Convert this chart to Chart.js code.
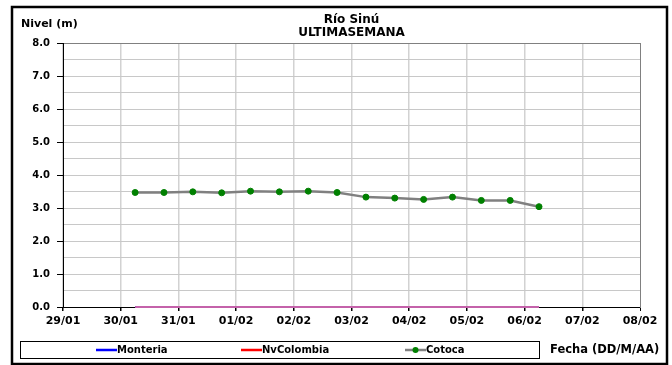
<!DOCTYPE html>
<html><head><meta charset="utf-8">
<script src="https://cdn.jsdelivr.net/npm/chart.js@4"></script>
<style>html,body{margin:0;padding:0;background:#fff}</style>
</head><body>
<canvas id="c" width="672" height="365"></canvas>
<script>
// ---- data ----
const fechasEje = ['29/01','30/01','31/01','01/02','02/02','03/02','04/02','05/02','06/02','07/02','08/02'];
const fechas = ['30/01 06:00','30/01 18:00','31/01 06:00','31/01 18:00','01/02 06:00','01/02 18:00',
  '02/02 06:00','02/02 18:00','03/02 06:00','03/02 18:00','04/02 06:00','04/02 18:00',
  '05/02 06:00','05/02 18:00','06/02 06:00'];
const cotoca = [3.47,3.47,3.49,3.46,3.51,3.49,3.51,3.47,3.33,3.30,3.26,3.33,3.23,3.23,3.04];
const monteria = [0,0,0,0,0,0,0,0,0,0,0,0,0,0,0];
const nvColombia = [0,0,0,0,0,0,0,0,0,0,0,0,0,0,0];
const series = ['Monteria','NvColombia','Cotoca'];
const titulo = ['Río Sinú','ULTIMASEMANA'];
const ejeY = 'Nivel (m)';
const ejeX = 'Fecha (DD/M/AA)';

// day offset from first axis date (29/01)
function dia(s){
  const [d,m] = s.split(' ')[0].split('/').map(Number);
  const [h,mi] = (s.split(' ')[1]||'00:00').split(':').map(Number);
  const t = new Date(2023, m-1, d, h, mi);
  const [d0,m0] = fechasEje[0].split('/').map(Number);
  const t0 = new Date(2023, m0-1, d0);
  return (t - t0) / 86400000;
}
const pts = arr => fechas.map((f,i)=>({x: dia(f), y: arr[i]}));

const FONT = 'DejaVu Sans';
const legendColors = ['#0000ff','#ff0000','#808080'];

const decor = {
  id: 'decor',
  afterDraw(chart){
    const c = chart.ctx;
    c.save();
    // outer frame
    c.strokeStyle = '#000'; c.lineWidth = 2.5;
    c.strokeRect(12, 7, 655, 357);
    // axis titles
    c.fillStyle = '#000';
    c.font = 'bold 11px "' + FONT + '"';
    c.textBaseline = 'middle'; c.textAlign = 'left';
    c.fillText(ejeY, 21, 24);
    c.font = 'bold 11.5px "' + FONT + '"';
    c.fillText(ejeX, 550, 350);
    // legend box
    c.lineWidth = 1; c.strokeStyle = '#000';
    c.strokeRect(20.5, 341.5, 519, 17);
    const lx = [96, 241, 405];
    c.font = 'bold 10px "' + FONT + '"';
    series.forEach((name, i) => {
      const x = lx[i], y = 350;
      c.strokeStyle = legendColors[i]; c.lineWidth = 2.5;
      c.beginPath(); c.moveTo(x, y); c.lineTo(x + 21, y); c.stroke();
      if (i === 2) {
        c.fillStyle = '#008000';
        c.beginPath(); c.arc(x + 10.5, y, 3, 0, Math.PI*2); c.fill();
      }
      c.fillStyle = '#000';
      c.fillText(name, x + 21, y + 0.5);
    });
    c.restore();
  }
};

new Chart(document.getElementById('c'), {
  type: 'line',
  data: {
    datasets: [
      { label: series[0], data: pts(monteria), borderColor: '#0000ff', borderWidth: 2, pointRadius: 0, clip: false, tension: 0, order: 2 },
      { label: series[1], data: pts(nvColombia), borderColor: '#c462aa', borderWidth: 2, pointRadius: 0, clip: false, tension: 0, order: 1 },
      { label: series[2], data: pts(cotoca), borderColor: '#808080', borderWidth: 2.5, order: 0,
        pointBackgroundColor: '#008000', pointBorderColor: '#008000', pointRadius: 3, pointBorderWidth: 1, tension: 0, clip: false }
    ]
  },
  options: {
    responsive: false,
    animation: false,
    layout: { padding: { left: 12, right: 32, top: 7, bottom: 0 } },
    plugins: {
      legend: { display: false },
      tooltip: { enabled: false },
      title: {
        display: true, text: titulo, fullSize: false, color: '#000',
        font: { family: FONT, size: 12, weight: 'bold', lineHeight: 1.1 },
        padding: { top: 6.4, bottom: 3.2 }
      }
    },
    scales: {
      x: {
        type: 'linear', min: 0, max: 10,
        afterFit(s){ s.height = 58; s.paddingLeft = 0; s.paddingRight = 0; },
        ticks: { stepSize: 1, autoSkip: false, maxRotation: 0, color: '#000', padding: 4,
          font: { family: FONT, size: 11, weight: 'bold' },
          callback: v => fechasEje[v] ?? '' },
        grid: { color: c => c.tick && c.tick.value === 10 ? '#808080' : '#d2d2d2',
          lineWidth: c => c.tick && c.tick.value === 10 ? 1 : 1.5,
          tickColor: '#000', tickLength: 4 },
        border: { color: '#000', width: 1 }
      },
      y: {
        min: 0, max: 8,
        afterFit(s){ s.width = 51; s.paddingTop = 0; s.paddingBottom = 0; },
        ticks: { stepSize: 0.5, autoSkip: false, color: '#000', padding: 7,
          font: { family: FONT, size: 10, weight: 'bold' },
          callback: v => Number.isInteger(v) ? v.toFixed(1) : '' },
        grid: { color: c => c.tick && c.tick.value === 8 ? '#808080' : '#c8c8c8',
          tickColor: c => c.tick && Number.isInteger(c.tick.value) ? '#000' : 'rgba(0,0,0,0)',
          tickLength: 6 },
        border: { color: '#000', width: 1 }
      }
    }
  },
  plugins: [decor]
});
</script>
</body></html>
